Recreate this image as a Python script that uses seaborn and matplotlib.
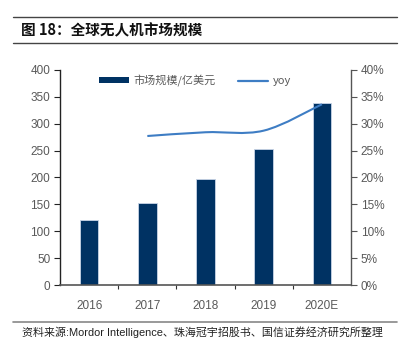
import matplotlib
matplotlib.use('Agg')
import matplotlib.pyplot as plt
import seaborn as sns
import pandas as pd
from matplotlib.path import Path
from matplotlib.patches import PathPatch, Patch
from matplotlib.lines import Line2D
from matplotlib.ticker import FuncFormatter, MultipleLocator

years = ["2016", "2017", "2018", "2019", "2020E"]
market_size = [121, 153, 197, 253, 338]
yoy = [None, 0.277, 0.284, 0.287, 0.336]

sns.set_theme(style="white")
plt.rcParams['font.family'] = ['Liberation Sans', 'Noto Sans CJK SC']

NAVY = "#003263"
LINE = "#3e7dc4"
GREY = "#595959"

fig = plt.figure(figsize=(4.03, 3.51), dpi=100)
ax = fig.add_axes([0.149, 0.188, 0.722, 0.613])

df = pd.DataFrame({"year": years, "size": market_size})
sns.barplot(data=df, x="year", y="size", order=years, color=NAVY, width=0.32,
            edgecolor="#c8d4e6", linewidth=0.6, saturation=1, ax=ax)
ax.set_ylim(0, 400)
ax.set_xlim(-0.5, 4.5)
ax.yaxis.set_major_locator(MultipleLocator(50))
ax.set_xlabel("")
ax.set_ylabel("")

ax2 = ax.twinx()
ax2.set_ylim(0, 0.40)
ax2.yaxis.set_major_locator(MultipleLocator(0.05))
ax2.yaxis.set_major_formatter(FuncFormatter(lambda v, p: f"{v*100:.0f}%"))

# smooth yoy curve (Catmull-Rom through the data points)
pts = [(i, v) for i, v in enumerate(yoy) if v is not None]
verts = [pts[0]]
codes = [Path.MOVETO]
for k in range(len(pts) - 1):
    p0 = pts[k - 1] if k > 0 else pts[k]
    p1, p2 = pts[k], pts[k + 1]
    p3 = pts[k + 2] if k + 2 < len(pts) else pts[k + 1]
    c1 = (p1[0] + (p2[0] - p0[0]) / 6, p1[1] + (p2[1] - p0[1]) / 6)
    c2 = (p2[0] - (p3[0] - p1[0]) / 6, p2[1] - (p3[1] - p1[1]) / 6)
    verts += [c1, c2, p2]
    codes += [Path.CURVE4] * 3
ax2.add_patch(PathPatch(Path(verts, codes), facecolor="none", edgecolor=LINE, lw=1.5))

for a in (ax, ax2):
    for s in a.spines.values():
        s.set_visible(False)
ax.spines["left"].set_visible(True)
ax.spines["left"].set_color("#222222")
ax.spines["left"].set_linewidth(1.0)
ax.spines["bottom"].set_visible(True)
ax.spines["bottom"].set_color("#555555")
ax.spines["bottom"].set_linewidth(1.2)
ax2.spines["right"].set_visible(True)
ax2.spines["right"].set_color("#555555")
ax2.spines["right"].set_linewidth(1.0)

ax.tick_params(axis="y", left=True, length=4, width=0.8, color="#222222",
               labelsize=8.5, labelcolor=GREY, pad=3)
ax2.tick_params(axis="y", right=True, length=4, width=0.8, color="#555555",
                labelsize=8.5, labelcolor=GREY, pad=3)
ax.set_xticks(range(len(years)))
ax.set_xticklabels(years)
ax.tick_params(axis="x", bottom=False, labelsize=8.5, labelcolor=GREY, pad=5)
ax.set_xticks([0.5, 1.5, 2.5, 3.5], minor=True)
ax.tick_params(axis="x", which="minor", bottom=True, length=3, width=0.8, color="#333333")

handles = [Patch(facecolor=NAVY, edgecolor="none"), Line2D([], [], color=LINE, lw=1.6)]
ax.legend(handles, ["市场规模/亿美元", "yoy"], loc="upper left", bbox_to_anchor=(0.10, 1.025),
          ncol=2, frameon=False, handlelength=2.7, handleheight=0.35,
          columnspacing=2.0, handletextpad=0.4, labelcolor=GREY,
          prop={"family": ["Noto Sans CJK SC"], "size": 8})

fig.add_artist(Line2D([0.032, 0.985], [1 - 17 / 351] * 2, color="#444444", lw=1.0))
fig.add_artist(Line2D([0.032, 0.985], [1 - 43 / 351] * 2, color="#444444", lw=1.0))
fig.text(0.052, 1 - 30 / 351, "图 18：全球无人机市场规模", fontsize=10.5, fontweight="bold",
         va="center", ha="left", color="#111111",
         family=["Noto Sans CJK SC"])
fig.add_artist(Line2D([0.032, 0.985], [1 - 322 / 351] * 2, color="#888888", lw=1.2))
fig.text(0.055, 1 - 332 / 351, "资料来源:Mordor Intelligence、珠海冠宇招股书、国信证券经济研究所整理",
         fontsize=7.9, va="center", ha="left", color="#222222",
         family=["Liberation Sans", "Noto Sans CJK SC"])

fig.savefig("out.png", dpi=100)
